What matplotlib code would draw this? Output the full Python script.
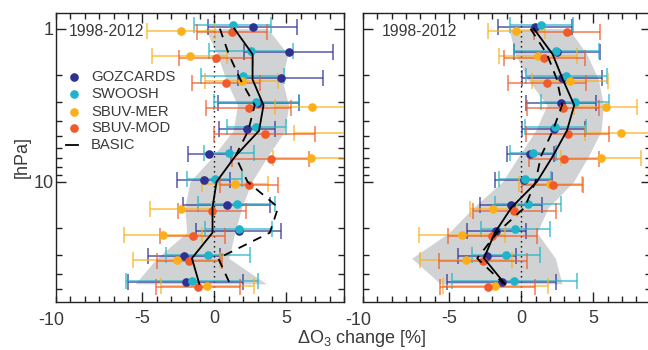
import numpy as np
import matplotlib
matplotlib.use('Agg')
import matplotlib.pyplot as plt
from matplotlib.ticker import MultipleLocator, FixedLocator, NullFormatter, FixedFormatter
from matplotlib.colors import to_rgba
import matplotlib.transforms as mtransforms

plt.rcParams['font.family'] = ['Liberation Sans', 'DejaVu Sans']
plt.rcParams['axes.unicode_minus'] = False
plt.rcParams['mathtext.default'] = 'regular'

# pressure levels [hPa]
levels = [1.0, 1.47, 2.15, 3.16, 4.64, 6.81, 10.0, 14.7, 21.5, 31.6, 46.4]

# ---- left panel ----
goz_l = [2.65, 5.15, 4.6, 3.05, 2.25, -0.36, -0.75, 0.85, 1.68, -2.14, -2.0]
goz_l_err = [3.1, 3.1, 2.95, 2.8, 1.95, 1.5, 1.85, 3.0, 2.97, 2.5, 4.0]
sw_l = [1.26, 2.53, 1.96, 2.9, 2.9, 1.03, 0.03, 1.54, 1.68, -0.43, -1.55]
sw_l_err = [2.7, 2.9, 2.9, 2.95, 2.05, 1.74, 1.9, 2.7, 2.3, 2.9, 4.6]
mer_l = [-2.33, -1.7, 1.9, 6.75, 9.4, 6.7, 1.42, -2.33, -3.55, -2.63, -0.48]
mer_l_err = [2.36, 2.6, 2.55, 2.53, 3.9, 2.6, 2.3, 2.15, 2.7, 3.0, 3.2]
mod_l = [1.22, 0.1, 0.8, 2.4, 3.5, 3.9, 2.42, -0.17, -1.52, -1.75, -1.15]
mod_l_err = [2.45, 2.55, 2.35, 2.95, 3.5, 2.68, 2.0, 2.35, 2.25, 2.25, 2.9]
basic_l = [1.38, 2.65, 2.65, 3.41, 3.1, 1.45, 0.15, -0.13, -0.13, -1.56, -1.05]
dashed_l = [0.38, 1.0, 1.8, 2.8, 2.35, 1.45, 2.3, 4.43, 3.85, 0.27, 1.08]
band_l_lo = [-0.65, 0.2, 0.8, 1.6, 1.3, -0.1, -1.7, -2.05, -1.93, -4.0, -5.5]
band_l_hi = [3.7, 5.1, 4.7, 5.15, 4.9, 3.7, 2.6, 1.9, 1.42, 1.0, 3.6]

# ---- right panel ----
goz_r = [0.99, 2.49, 2.84, 2.79, 2.26, 0.65, 0.18, -0.69, -1.73, -2.35, -1.36]
goz_r_err = [2.56, 2.98, 2.77, 2.43, 2.2, 1.63, 1.96, 2.17, 2.04, 2.02, 3.78]
sw_r = [1.4, 2.45, 3.14, 3.71, 2.38, 0.83, 0.25, 0.48, -0.39, -1.04, -0.46]
sw_r_err = [2.2, 2.97, 2.8, 2.36, 2.13, 1.6, 1.8, 2.27, 2.38, 2.38, 4.35]
mer_r = [-0.32, 1.15, 3.41, 5.88, 6.92, 5.56, 2.03, -1.94, -4.08, -3.85, -1.78]
mer_r_err = [1.96, 2.7, 2.63, 2.2, 2.49, 2.8, 2.17, 1.64, 2.98, 3.2, 3.63]
mod_r = [3.18, 1.61, 1.8, 2.88, 3.23, 2.95, 2.19, -0.46, -2.0, -2.65, -2.31]
mod_r_err = [2.3, 2.8, 2.74, 2.5, 2.9, 2.43, 2.1, 2.9, 3.07, 3.03, 3.3]
basic_r = [0.88, 2.19, 2.9, 3.69, 3.18, 2.2, 1.1, -0.66, -1.82, -2.58, -1.13]
dashed_r = [0.65, 1.8, 2.49, 2.85, 2.2, 1.38, 1.0, 0.25, -1.66, -3.05, -1.2]
band_r_lo = [-0.85, -0.4, 0.46, 1.8, 1.0, -0.16, -1.3, -3.3, -5.0, -7.6, -5.6]
band_r_hi = [3.3, 4.57, 5.37, 5.72, 5.56, 4.68, 3.64, 1.9, 1.1, 2.38, 2.84]

names = ['GOZCARDS', 'SWOOSH', 'SBUV-MER', 'SBUV-MOD']
colors = ['#2e3192', '#1fb4c9', '#fbb01a', '#f15a29']
# small vertical offsets (decades) so the symbols do not sit on top of each other
offsets = [-0.013, -0.021, 0.012, 0.021]
period = '1998-2012'
txtc = '#3a3a3a'

fig = plt.figure(figsize=(6.48, 3.5), dpi=100)
ax1 = fig.add_axes([56/648, 48/350, 288/648, 289/350])
ax2 = fig.add_axes([362.7/648, 48/350, 288/648, 289/350])

panels = [
    (ax1, [goz_l, sw_l, mer_l, mod_l], [goz_l_err, sw_l_err, mer_l_err, mod_l_err],
     basic_l, dashed_l, band_l_lo, band_l_hi, 0.045),
    (ax2, [goz_r, sw_r, mer_r, mod_r], [goz_r_err, sw_r_err, mer_r_err, mod_r_err],
     basic_r, dashed_r, band_r_lo, band_r_hi, 0.065),
]

lev = np.array(levels)
for ax, vals, errs, basic, dashed, lo, hi, tx in panels:
    ax.set_yscale('log')
    ax.fill_betweenx(lev, lo, hi, color='#d1d2d3', lw=0, zorder=1)
    ax.axvline(0, color='k', ls=(0, (1, 2.6)), lw=1, zorder=2)
    for v, e, c, off in zip(vals, errs, colors, offsets):
        ax.errorbar(v, lev * 10**off, xerr=e, fmt='o', color=c, ms=5.2,
                    ecolor=to_rgba(c, 0.8), elinewidth=1.1, capsize=5.5, capthick=1.1,
                    zorder=3)
    ax.plot(basic, lev, color='k', lw=1.3, zorder=4)
    ax.plot(dashed, lev, color='k', lw=1.3, ls=(0, (5, 4)), zorder=4)

    ax.set_xlim(-11, 9)
    ax.set_ylim(61, 0.79)
    ax.xaxis.set_major_locator(FixedLocator([-5, 0, 5]))
    ax.xaxis.set_minor_locator(MultipleLocator(1))
    ax.yaxis.set_major_locator(FixedLocator([1, 10]))
    ax.yaxis.set_major_formatter(FixedFormatter(['1', '10']))
    ax.yaxis.set_minor_locator(FixedLocator([2, 3, 4, 5, 6, 7, 8, 9, 20, 30, 40, 50]))
    ax.yaxis.set_minor_formatter(NullFormatter())
    ax.tick_params(which='both', direction='in', top=True, right=True,
                   colors='#222222', labelcolor=txtc, labelsize=13)
    ax.tick_params(which='major', length=7, width=1)
    ax.tick_params(which='minor', length=4, width=1)
    ax.tick_params(axis='x', pad=5.5)
    ax.tick_params(axis='y', pad=1.5)
    for s in ax.spines.values():
        s.set_color('#222222')
        s.set_linewidth(1)

    # the "-10" label sits at the left edge of each panel, level with the other tick labels
    trans = mtransforms.blended_transform_factory(ax.transData, ax.transAxes)
    ax.text(-11.3, -0.064, '-10', transform=trans, ha='center', va='center',
            fontsize=13, color=txtc)
    ax.text(tx, 0.935, period, transform=ax.transAxes, ha='left', va='center',
            fontsize=11.3, color=txtc)

ax2.tick_params(labelleft=False)

# legend drawn by hand in the left panel
leg_y = [0.780, 0.719, 0.658, 0.601]
for y, n, c in zip(leg_y, names, colors):
    ax1.plot([0.064], [y], transform=ax1.transAxes, marker='o', color=c, ms=5.2,
             clip_on=False)
    ax1.text(0.122, y, n, transform=ax1.transAxes, va='center', fontsize=10.7, color=txtc)
ax1.plot([0.036, 0.076], [0.543, 0.543], transform=ax1.transAxes, color='k', lw=1.3)
ax1.text(0.122, 0.543, 'BASIC', transform=ax1.transAxes, va='center', fontsize=10.7, color=txtc)

ax1.set_ylabel('[hPa]', fontsize=13, color=txtc, labelpad=2)
fig.text(0.558, 0.032, 'ΔO$_3$ change [%]', ha='center', va='center', fontsize=13, color=txtc)

fig.savefig('out.png', dpi=100)
